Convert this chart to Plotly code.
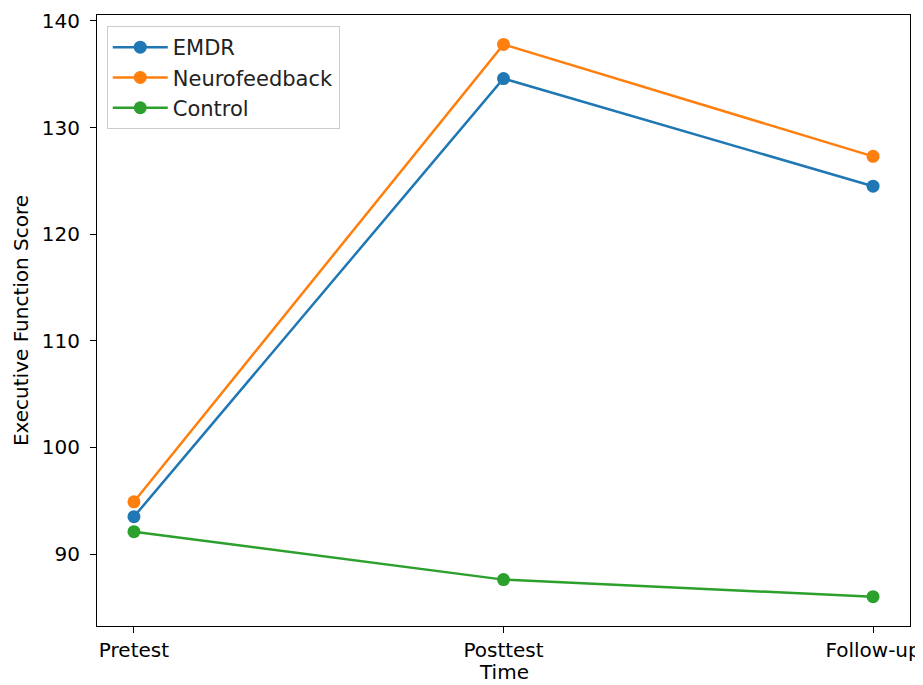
import plotly.graph_objects as go

times = ["Pretest", "Posttest", "Follow-up"]
emdr = [93.5, 134.6, 124.5]
neuro = [94.9, 137.8, 127.3]
control = [92.1, 87.6, 86.0]

series = [("EMDR", emdr, "#1f77b4"), ("Neurofeedback", neuro, "#ff7f0e"), ("Control", control, "#2ca02c")]

fig = go.Figure()
for name, vals, col in series:
    fig.add_trace(go.Scatter(x=list(range(len(times))), y=vals, name=name, mode="lines+markers",
                             line=dict(color=col, width=2.5), marker=dict(color=col, size=13)))

fig.update_layout(
    width=915, height=677,
    margin=dict(l=89, r=13, t=7, b=59),
    paper_bgcolor="white", plot_bgcolor="white",
    font=dict(family="DejaVu Sans", size=20, color="black"),
    showlegend=True,
    legend=dict(x=0.012, y=0.982, xanchor="left", yanchor="top",
                bgcolor="rgba(255,255,255,0.8)", bordercolor="#cccccc", borderwidth=1,
                font=dict(size=21, color="#222"), itemwidth=55),
    annotations=[dict(text="Time", xref="paper", yref="paper", x=0.5, y=0, xanchor="center",
                      yanchor="middle", yshift=-46, showarrow=False, font=dict(size=20, color="black"))],
)
fig.update_xaxes(range=[-0.1, 2.1], tickmode="array", tickvals=list(range(len(times))), ticktext=times,
                 showgrid=False, zeroline=False, showline=True, linecolor="black", linewidth=1, mirror=True,
                 ticks="outside", ticklen=6, tickcolor="black", ticklabeloverflow="allow", automargin=False)
fig.update_yaxes(range=[83.25, 140.56], tickvals=[90, 100, 110, 120, 130, 140],
                 showgrid=False, zeroline=False, showline=True, linecolor="black", linewidth=1, mirror=True,
                 ticks="outside", ticklen=6, tickcolor="black", ticklabelstandoff=6, automargin=False,
                 title=dict(text="Executive Function Score", font=dict(size=20), standoff=7))
fig.write_html("out.html", config=dict(displayModeBar=False))
